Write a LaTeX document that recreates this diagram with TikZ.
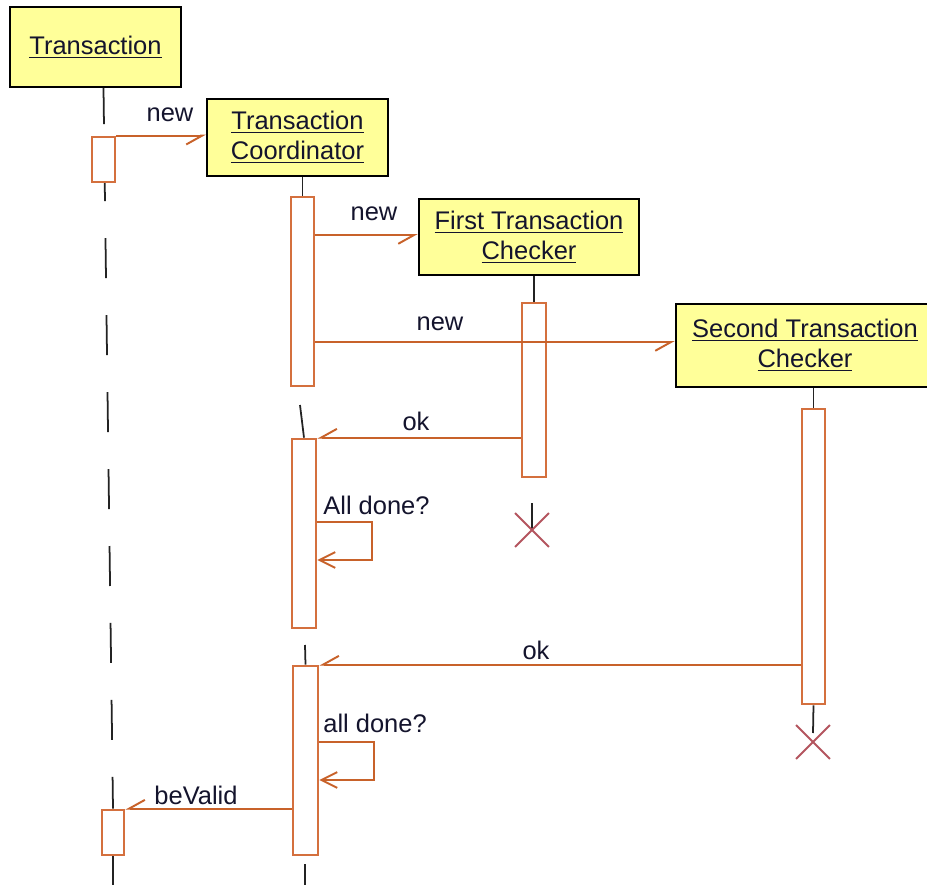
\documentclass[tikz,border=0pt]{standalone}
\usepackage{fontspec}
\setmainfont{Liberation Sans}
\usetikzlibrary{arrows.meta,fit,shapes.misc}

\definecolor{objfill}{RGB}{255,255,153}
\definecolor{msg}{RGB}{200,98,42}
\definecolor{actline}{RGB}{212,112,62}
\definecolor{killx}{RGB}{180,85,95}
\definecolor{lifeline}{RGB}{35,35,35}
\definecolor{txt}{RGB}{20,20,45}

\begin{document}
\begin{tikzpicture}[x=0.02cm,y=-0.02cm,
  font=\fontsize{14.5}{17}\selectfont, text=txt,
  obj/.style={draw=black, line width=1.4pt, fill=objfill, inner sep=0pt, align=center},
  act/.style={draw=actline, line width=1.5pt, fill=white, inner sep=0pt},
  life/.style={draw=lifeline, line width=1pt},
  lifedash/.style={life, dash pattern=on 22.76pt off 21.05pt, dash phase=2.28pt},
  msgline/.style={draw=msg, line width=1.1pt, -{Straight Barb[harpoon,swap,length=9pt,width=10pt]}},
  selfcall/.style={draw=msg, line width=1.1pt, -{Straight Barb[length=9pt,width=9pt]}},
  lbl/.style={inner sep=0pt},
  killmark/.style={draw=killx, line width=1.1pt, cross out, inner sep=0pt, minimum size=0.64cm}]

  % canvas
  \clip (0,0) rectangle (927,885);
  \fill[white] (0,0) rectangle (927,885);

  % participants
  \node[obj, minimum width=3.42cm, minimum height=1.6cm] (tr) at (95.5,47) {\underline{Transaction}};
  \node[obj, minimum width=3.62cm, minimum height=1.54cm] (tc) at (297.5,137.5) {\underline{Transaction}\\\underline{Coordinator}};
  \node[obj, minimum width=4.4cm, minimum height=1.52cm] (ftc) at (529,237) {\underline{First Transaction}\\\underline{Checker}};
  \node[obj, minimum width=5.16cm, minimum height=1.66cm] (stc) at (805,345.5) {\underline{Second Transaction}\\\underline{Checker}};

  % helper points on the lifelines and message rows
  \coordinate (trEnd) at (113,885);
  \coordinate (tcL2) at (300,405);
  \coordinate (tcL3) at (305,645);
  \coordinate (tcL4) at (305,864);
  \coordinate (tcEnd) at (305,885);
  \coordinate (fxTop) at (532,503);
  \coordinate (sxTop) at (813,733);
  \coordinate (newRow2) at (419,235);
  \coordinate (newRow3) at (676,342);
  \coordinate (sc1a) at (372,522);
  \coordinate (sc1b) at (372,560);
  \coordinate (sc2a) at (374,742);
  \coordinate (sc2b) at (374,780);

  % activation bars (named first so lifelines can refer to them)
  \node[act, fit={(92,137) (115,182)}] (t1) {};
  \node[act, fit={(102,810) (124,855)}] (t2) {};
  \node[act, fit={(291,197) (314,386)}] (a1) {};
  \node[act, fit={(292,439) (316,628)}] (a2) {};
  \node[act, fit={(293,666) (318,855)}] (a3) {};
  \node[act, fit={(522,303) (546,477)}] (f1) {};
  \node[act, fit={(802,409) (825,704)}] (s1) {};

  % lifelines
  \draw[lifedash] (tr.south -| t1.north) -- (t2.north);
  \draw[life] (t2.south) -- (trEnd);
  \draw[life] (tc.south -| a1.north) -- (a1.north);
  \draw[life] (tcL2) -- (a2.north);
  \draw[life] (tcL3) -- (a3.north);
  \draw[life] (tcL4) -- (tcEnd);
  \draw[life] (ftc.south -| f1.north) -- (f1.north);
  \draw[life] (stc.south -| s1.north) -- (s1.north);
  \draw[life] (fxTop) -- (532,530);
  \draw[life] (s1.south) -- (sxTop);

  % bars again, on top of the lifelines
  \node[act, fit={(92,137) (115,182)}] (t1b) {};
  \node[act, fit={(102,810) (124,855)}] (t2b) {};
  \node[act, fit={(291,197) (314,386)}] (a1b) {};
  \node[act, fit={(292,439) (316,628)}] (a2b) {};
  \node[act, fit={(293,666) (318,855)}] (a3b) {};
  \node[act, fit={(522,303) (546,477)}] (f1b) {};
  \node[act, fit={(802,409) (825,704)}] (s1b) {};

  % destruction marks
  \node[killmark] (fx) at (532,530) {};
  \node[killmark] (sx) at (813,742) {};

  % messages
  \draw[msgline] (t1.north east) -- (tc.west |- t1.north east);
  \draw[msgline] (a1.east |- newRow2) -- (ftc.west |- newRow2);
  \draw[msgline] (a1.east |- newRow3) -- (stc.west |- newRow3);
  \draw[msgline] (f1.west |- a2.north) -- (a2.north east);
  \draw[selfcall] (a2.east |- sc1a) -- (sc1a) -- (sc1b) -- (a2.east |- sc1b);
  \draw[msgline] (s1.west |- a3.north) -- (a3.north east);
  \draw[selfcall] (a3.east |- sc2a) -- (sc2a) -- (sc2b) -- (a3.east |- sc2b);
  \draw[msgline] (a3.west |- t2.north) -- (t2.north east);

  % message labels
  \node[lbl] (l1) at (170,115) {new};
  \node[lbl] (l2) at (374,214) {new};
  \node[lbl] (l3) at (440,324) {new};
  \node[lbl] (l4) at (416,421) {ok};
  \node[lbl, anchor=west] (l5) at (323,505) {All done?};
  \node[lbl] (l6) at (536,650) {ok};
  \node[lbl, anchor=west] (l7) at (323,723) {all done?};
  \node[lbl] (l8) at (196,795) {beValid};
\end{tikzpicture}
\end{document}
